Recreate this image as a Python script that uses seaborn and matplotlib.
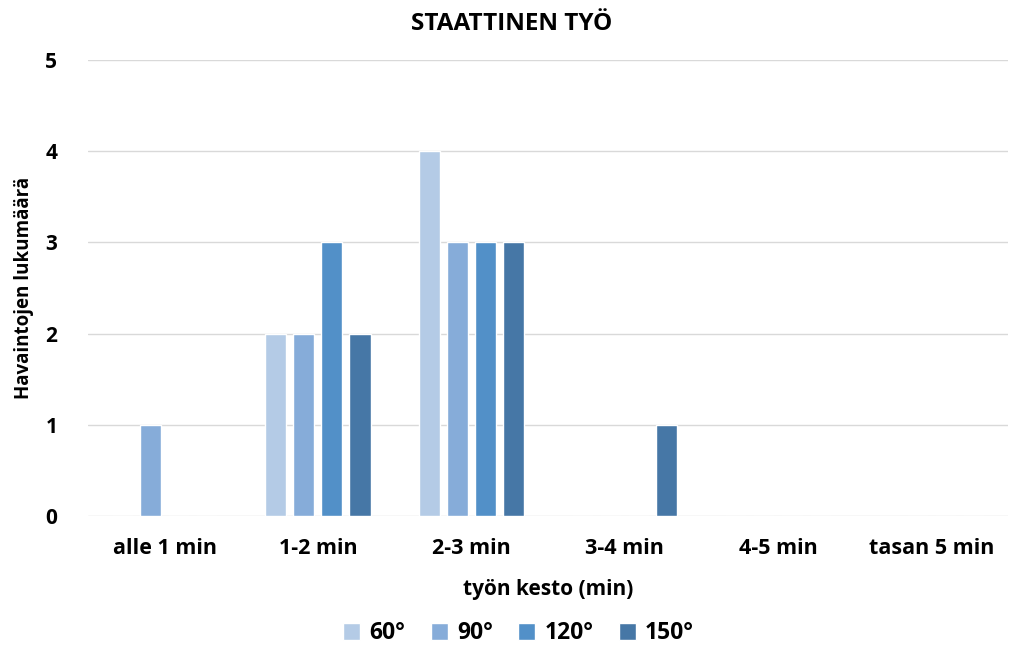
import matplotlib
matplotlib.use("Agg")
import matplotlib.pyplot as plt
import seaborn as sns
import pandas as pd

categories = ["alle 1 min", "1-2 min", "2-3 min", "3-4 min", "4-5 min", "tasan 5 min"]
angles = ["60°", "90°", "120°", "150°"]
counts_60 = [0, 2, 4, 0, 0, 0]
counts_90 = [1, 2, 3, 0, 0, 0]
counts_120 = [0, 3, 3, 0, 0, 0]
counts_150 = [0, 2, 3, 1, 0, 0]
colors = ["#B4CBE6", "#86ACD9", "#5290C8", "#4677A6"]

rows = []
for angle, vals in zip(angles, [counts_60, counts_90, counts_120, counts_150]):
    for cat, v in zip(categories, vals):
        rows.append({"kesto": cat, "kulma": angle, "lukumäärä": v})
df = pd.DataFrame(rows)

sns.set_theme(style="white")
plt.rcParams["font.family"] = ["Open Sans", "DejaVu Sans"]
plt.rcParams["text.color"] = "#000000"
plt.rcParams["axes.labelcolor"] = "#000000"

fig = plt.figure(figsize=(10.1, 6.45), dpi=100)
ax = fig.add_axes([0.087, 0.2, 0.911, 0.707])

sns.barplot(data=df, x="kesto", y="lukumäärä", hue="kulma", order=categories,
            hue_order=angles, palette=colors, width=0.732, gap=0.25,
            saturation=1, ax=ax, legend=True)

ax.set_ylim(0, 5)
ax.set_xlim(-0.5, len(categories) - 0.5)
ax.set_yticks(range(0, 6))
ax.yaxis.grid(True, color="#D9D9D9", linewidth=1)
ax.set_axisbelow(True)
for s in ax.spines.values():
    s.set_visible(False)
ax.tick_params(axis="both", length=0, colors="#000000")
ax.tick_params(axis="y", pad=22, labelsize=15)
ax.tick_params(axis="x", pad=16, labelsize=15.5)
for lab in ax.get_xticklabels() + ax.get_yticklabels():
    lab.set_fontweight("bold")

ax.set_xlabel("työn kesto (min)", fontsize=15, fontweight="bold", labelpad=14)
ax.set_ylabel("Havaintojen lukumäärä", fontsize=13.5, fontweight="bold", labelpad=8)
fig.suptitle("STAATTINEN TYÖ", x=0.507, y=0.982, fontsize=17.5, fontweight="bold")

leg = ax.legend(loc="center", bbox_to_anchor=(0.468, -0.257), ncol=4,
                frameon=False, fontsize=16.5, handlelength=0.75, handleheight=0.75,
                handletextpad=0.4, columnspacing=1.1)
for t in leg.get_texts():
    t.set_fontweight("bold")

fig.savefig("out.png", dpi=100, facecolor="white")
